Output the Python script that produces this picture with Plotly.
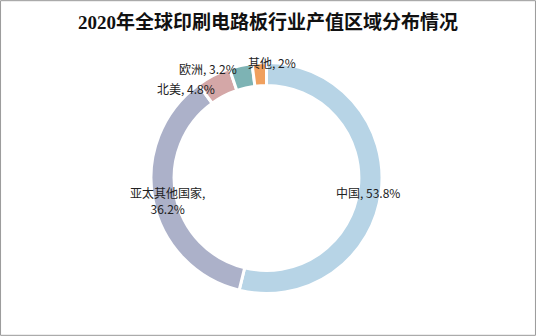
import math
import plotly.graph_objects as go

categories = ["中国", "亚太其他国家", "北美", "欧洲", "其他"]
values = [53.8, 36.2, 4.8, 3.2, 2.0]
label_texts = ["中国, 53.8%", "亚太其他国家,<br>36.2%", "北美, 4.8%", "欧洲, 3.2%", "其他, 2%"]
colors = ["#b7d4e6", "#acb1c9", "#d4a7a7", "#7db3b4", "#f0a05e"]

W, H = 536, 336
cx, cy, R = 266.5, 178.0, 115.5
dom_x = [(cx - R) / W, (cx + R) / W]
dom_y = [1 - (cy + R) / H, 1 - (cy - R) / H]

fig = go.Figure(go.Pie(
    labels=categories, values=values, sort=False, direction="clockwise",
    rotation=0, hole=0.80, textinfo="none", hoverinfo="label+percent",
    marker=dict(colors=colors, line=dict(color="white", width=3)),
    domain=dict(x=dom_x, y=dom_y), showlegend=False,
))

# label placement (radius in px, anchor, shifts)
label_r = [105, 105, 104, 111, 112]
label_anchor = ["center", "center", "right", "right", "left"]
label_shift = [(-3, -2), (4, -2), (-2, -3), (-3, 1), (-13, 4)]

total = sum(values)
cum = 0.0
for i, v in enumerate(values):
    mid = (cum + v / 2) / total * 2 * math.pi
    cum += v
    px = cx + label_r[i] * math.sin(mid)
    py = cy - label_r[i] * math.cos(mid)
    fig.add_annotation(
        x=px / W, y=1 - py / H, xref="paper", yref="paper",
        text=label_texts[i], showarrow=False, xanchor=label_anchor[i], yanchor="middle",
        xshift=label_shift[i][0], yshift=label_shift[i][1],
        font=dict(family="Noto Sans CJK SC", size=12, color="#222222"), align="center",
    )

fig.update_layout(
    width=W, height=H, margin=dict(l=0, r=0, t=0, b=0),
    paper_bgcolor="white", plot_bgcolor="white",
    title=dict(text="<b>2020年全球印刷电路板行业产值区域分布情况</b>", x=0.5, xanchor="center",
               y=1 - 22 / H, yanchor="middle",
               font=dict(family="Liberation Serif, Noto Sans CJK SC", size=19, color="#111111")),
    shapes=[dict(type="rect", xref="paper", yref="paper", x0=0.001, y0=0.002, x1=0.999, y1=0.998,
                 line=dict(color="#999999", width=1))],
)

fig.write_html("out.html")
